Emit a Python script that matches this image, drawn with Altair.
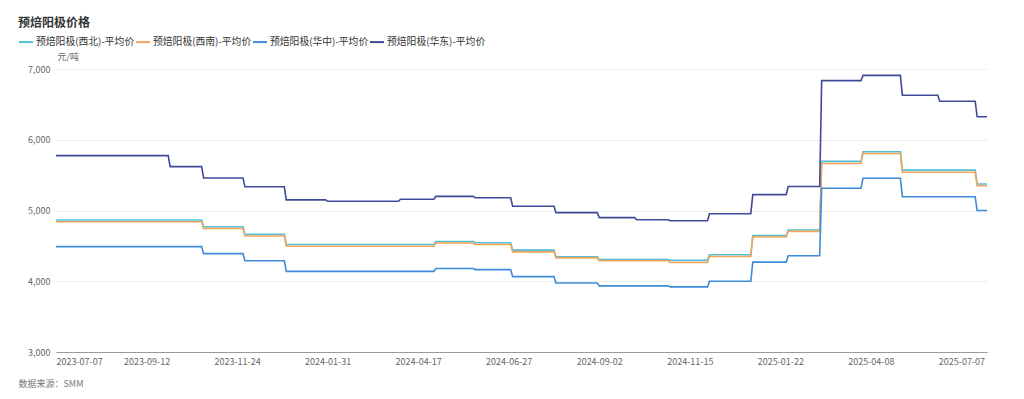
import altair as alt
import pandas as pd

# ---------------- data ----------------
series_names = [
    "预焙阳极(西北)-平均价",
    "预焙阳极(西南)-平均价",
    "预焙阳极(华中)-平均价",
    "预焙阳极(华东)-平均价",
]
colors = ["#4fc0d8", "#f5a55a", "#3d8bd9", "#3e4a98"]

# x is the position on the category (trading-day) axis
tick_step = 46
tick_labels = ["2023-07-07", "2023-09-12", "2023-11-24", "2024-01-31", "2024-04-17",
               "2024-06-27", "2024-09-02", "2024-11-15", "2025-01-22", "2025-04-08",
               "2025-07-07"]
last_index = 473

# change points (category index where a new price starts)
common_idx = [0, 75, 96, 117, 193, 213, 232, 254, 276, 312, 332, 354, 372, 389, 410, 430, 468]
xibei_vals = [4865, 4770, 4665, 4520, 4560, 4545, 4440, 4345, 4305, 4295, 4375, 4645, 4725, 5695, 5830, 5570, 5375]
xinan_vals = [4840, 4745, 4640, 4495, 4540, 4520, 4415, 4330, 4290, 4265, 4350, 4625, 4705, 5665, 5805, 5540, 5350]
huazhong_vals = [4490, 4390, 4290, 4140, 4180, 4165, 4065, 3975, 3935, 3920, 4000, 4270, 4360, 5315, 5455, 5195, 5000]
huadong_idx = [0, 58, 75, 96, 117, 138, 175, 193, 213, 232, 254, 276, 295, 312, 332, 354, 372, 389, 410, 430, 449, 468]
huadong_vals = [5775, 5620, 5460, 5335, 5150, 5130, 5160, 5200, 5180, 5060, 4970, 4900, 4870, 4855, 4955, 5225, 5340, 6835, 6910, 6630, 6545, 6325]

series_points = [
    (series_names[0], common_idx, xibei_vals),
    (series_names[1], common_idx, xinan_vals),
    (series_names[2], common_idx, huazhong_vals),
    (series_names[3], huadong_idx, huadong_vals),
]

rows = []
for name, idxs, vals in series_points:
    for k, (start, v) in enumerate(zip(idxs, vals)):
        end = idxs[k + 1] - 1 if k + 1 < len(idxs) else last_index
        rows.append({"series": name, "x": start, "value": v})
        if end > start:
            rows.append({"series": name, "x": end, "value": v})
df = pd.DataFrame(rows)

label_expr = "[" + ",".join("'%s'" % t for t in tick_labels) + "][round(datum.value/%d)]" % tick_step
tick_values = [i * tick_step for i in range(len(tick_labels))]

FONT = "Noto Sans CJK SC"

chart = (
    alt.Chart(df)
    .mark_line(strokeWidth=1.6)
    .encode(
        x=alt.X(
            "x:Q",
            scale=alt.Scale(domain=[0, last_index], nice=False, zero=False),
            axis=alt.Axis(
                values=tick_values,
                labelExpr=label_expr,
                labelFlush=True,
                labelOverlap=False,
                grid=False,
                ticks=False,
                domainColor="#9a9a9a",
                labelColor="#666666",
                labelFontSize=9,
                labelPadding=5,
                title="数据来源：SMM",
                titleX=-38,
                titleY=31,
                titleAlign="left",
                titleBaseline="middle",
                titleFontSize=9,
                titleFontWeight="normal",
                titleColor="#777777",
            ),
        ),
        y=alt.Y(
            "value:Q",
            scale=alt.Scale(domain=[3000, 7000], nice=False, zero=False),
            axis=alt.Axis(
                values=[3000, 4000, 5000, 6000, 7000],
                format=",.0f",
                domain=False,
                ticks=False,
                gridColor="#eeeeee",
                labelColor="#666666",
                labelFontSize=9,
                labelPadding=6,
                title="元/吨",
                titleAngle=0,
                titleX=1,
                titleY=-13,
                titleAlign="left",
                titleBaseline="middle",
                titleFontSize=9,
                titleFontWeight="normal",
                titleColor="#666666",
            ),
        ),
        color=alt.Color(
            "series:N",
            scale=alt.Scale(domain=series_names, range=colors),
            legend=alt.Legend(
                orient="none",
                legendX=-38,
                legendY=-35,
                direction="horizontal",
                title=None,
                symbolType="stroke",
                symbolStrokeWidth=2,
                symbolSize=196,
                labelFontSize=9.8,
                labelColor="#333333",
                labelOffset=2,
                columnPadding=-3,
            ),
        ),
        order=alt.Order("x:Q"),
        detail="series:N",
    )
    .properties(
        width=931,
        height=283,
        title=alt.TitleParams(
            "预焙阳极价格",
            anchor="start",
            frame="bounds",
            fontSize=12,
            fontWeight="bold",
            color="#333333",
            offset=4,
        ),
        autosize=alt.AutoSizeParams(type="none"),
        padding={"left": 48, "top": 61, "right": 29, "bottom": 40},
    )
    .configure(font=FONT)
    .configure_view(stroke=None)
)

chart.save("out.html", embed_options={"renderer": "svg", "actions": False})
